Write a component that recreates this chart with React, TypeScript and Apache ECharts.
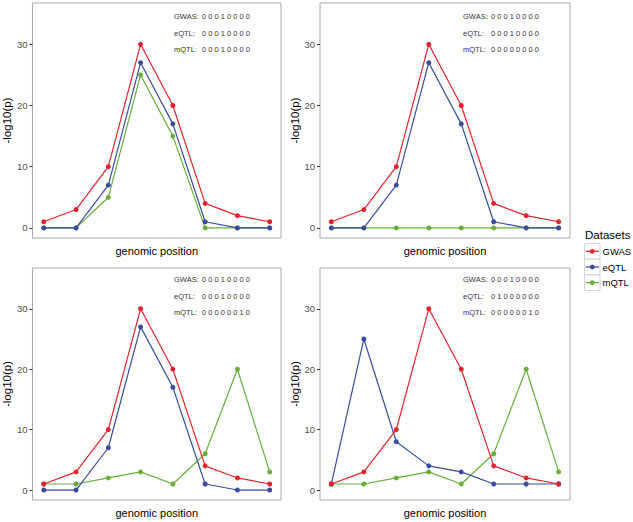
import React, { useEffect, useRef } from "react";
import * as echarts from "echarts";

const positions = [1, 2, 3, 4, 5, 6, 7, 8];
const datasetNames = ["GWAS", "eQTL", "mQTL"];
const datasetColors = ["#E3232C", "#384C9E", "#67AF3B"];
const yTicks = [0, 10, 20, 30];

// values per panel: [GWAS, eQTL, mQTL]
const panel1GWAS = [1, 3, 10, 30, 20, 4, 2, 1];
const panel1eQTL = [0, 0, 7, 27, 17, 1, 0, 0];
const panel1mQTL = [0, 0, 5, 25, 15, 0, 0, 0];

const panel2GWAS = [1, 3, 10, 30, 20, 4, 2, 1];
const panel2eQTL = [0, 0, 7, 27, 17, 1, 0, 0];
const panel2mQTL = [0, 0, 0, 0, 0, 0, 0, 0];

const panel3GWAS = [1, 3, 10, 30, 20, 4, 2, 1];
const panel3eQTL = [0, 0, 7, 27, 17, 1, 0, 0];
const panel3mQTL = [1, 1, 2, 3, 1, 6, 20, 3];

const panel4GWAS = [1, 3, 10, 30, 20, 4, 2, 1];
const panel4eQTL = [1, 25, 8, 4, 3, 1, 1, 1];
const panel4mQTL = [1, 1, 2, 3, 1, 6, 20, 3];

// causal codes shown in the annotation of each panel
const panel1Codes = ["00010000", "00010000", "00010000"];
const panel2Codes = ["00010000", "00010000", "00000000"];
const panel3Codes = ["00010000", "00010000", "00000010"];
const panel4Codes = ["00010000", "01000000", "00000010"];

const panelValues = [
  [panel1GWAS, panel1eQTL, panel1mQTL],
  [panel2GWAS, panel2eQTL, panel2mQTL],
  [panel3GWAS, panel3eQTL, panel3mQTL],
  [panel4GWAS, panel4eQTL, panel4mQTL],
];
const panelCodes = [panel1Codes, panel2Codes, panel3Codes, panel4Codes];

const FONT = "'Liberation Sans', Arial, Helvetica, sans-serif";

const grids = [
  { left: 31, top: 3, width: 250, height: 235 },
  { left: 320, top: 3, width: 250, height: 235 },
  { left: 31, top: 268, width: 250, height: 232 },
  { left: 320, top: 268, width: 250, height: 232 },
];
const annotRows = [
  [16.7, 33.2, 49.5],
  [16.7, 33.2, 49.5],
  [279.5, 296, 312.7],
  [279.5, 296, 312.7],
];

export default function App() {
  const ref = useRef<HTMLDivElement>(null);
  useEffect(() => {
    document.body.style.margin = "0";
    if (!ref.current) return;
    const chart = echarts.init(ref.current, undefined, { renderer: "svg" });

    const grid = grids.map((g) => ({
      ...g,
      show: true,
      backgroundColor: "#ffffff",
      borderColor: "#a8a8a8",
      borderWidth: 1,
    }));

    const xAxis = grids.map((_, i) => ({
      type: "value",
      gridIndex: i,
      min: 0.65,
      max: 8.35,
      axisLine: { show: false },
      axisTick: { show: false },
      axisLabel: { show: false },
      splitLine: { show: false },
      name: "genomic position",
      nameLocation: "middle",
      nameGap: 7,
      nameTextStyle: { fontFamily: FONT, fontSize: 11, color: "#000", verticalAlign: "top" },
    }));

    const yAxis = grids.map((_, i) => ({
      type: "value",
      gridIndex: i,
      min: -1.65,
      max: 36.75,
      axisLine: { show: false },
      axisTick: {
        show: true,
        length: 3,
        customValues: yTicks,
        lineStyle: { color: "#333", width: 1 },
      },
      axisLabel: {
        show: true,
        customValues: yTicks,
        margin: 5,
        fontFamily: FONT,
        fontSize: 9.5,
        color: "#4d4d4d",
      },
      splitLine: { show: false },
      name: "-log10(p)",
      nameLocation: "middle",
      nameRotate: 90,
      nameGap: 11,
      nameTextStyle: { fontFamily: FONT, fontSize: 11.5, color: "#000" },
    }));

    const series: any[] = [];
    panelValues.forEach((vals, pi) => {
      vals.forEach((arr, di) => {
        series.push({
          type: "line",
          name: datasetNames[di],
          xAxisIndex: pi,
          yAxisIndex: pi,
          data: positions.map((p, k) => [p, arr[k]]),
          symbol: "circle",
          symbolSize: 5,
          color: datasetColors[di],
          lineStyle: { width: 1.2, color: datasetColors[di] },
          itemStyle: { color: datasetColors[di] },
          z: 3 - di,
        });
      });
    });

    const graphic: any[] = [];
    panelCodes.forEach((codes, pi) => {
      const g = grids[pi];
      codes.forEach((code, ri) => {
        graphic.push({
          type: "text",
          x: g.left + 143,
          y: annotRows[pi][ri],
          style: {
            text: datasetNames[ri] + ":",
            fontFamily: FONT,
            fontSize: 7.5,
            fill: "#333",
            verticalAlign: "middle",
            align: "left",
          },
          z: 10,
        });
        graphic.push({
          type: "text",
          x: g.left + 171,
          y: annotRows[pi][ri],
          style: {
            text: code.split("").join(" "),
            fontFamily: FONT,
            fontSize: 7.5,
            fill: "#333",
            verticalAlign: "middle",
            align: "left",
          },
          z: 10,
        });
      });
    });
    // legend title, key boxes, keys and labels
    graphic.push({
      type: "text",
      x: 585,
      y: 235,
      style: {
        text: "Datasets",
        fontFamily: FONT,
        fontSize: 11.5,
        fill: "#000",
        verticalAlign: "middle",
        align: "left",
      },
    });
    datasetNames.forEach((name, i) => {
      const cy = 251.3 + i * 15.7;
      graphic.push({
        type: "rect",
        shape: { x: 584.5, y: cy - 7.75, width: 15.5, height: 15.5 },
        style: { fill: "#ffffff", stroke: "#d4d4d4", lineWidth: 1 },
      });
      graphic.push({
        type: "line",
        shape: { x1: 585.5, y1: cy, x2: 599, y2: cy },
        style: { stroke: datasetColors[i], lineWidth: 1.2 },
      });
      graphic.push({
        type: "circle",
        shape: { cx: 592.3, cy, r: 2.4 },
        style: { fill: datasetColors[i] },
      });
      graphic.push({
        type: "text",
        x: 602.5,
        y: cy,
        style: {
          text: name,
          fontFamily: FONT,
          fontSize: 9.5,
          fill: "#000",
          verticalAlign: "middle",
          align: "left",
        },
      });
    });

    chart.setOption({
      animation: false,
      grid,
      xAxis,
      yAxis,
      series,
      graphic,
    });
    return () => chart.dispose();
  }, []);
  return <div ref={ref} style={{ width: 633, height: 522 }} />;
}
